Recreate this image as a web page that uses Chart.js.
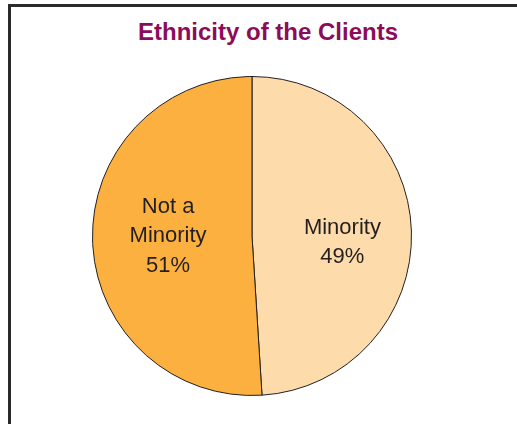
<!DOCTYPE html>
<html>
<head>
<meta charset="utf-8">
<script src="https://cdn.jsdelivr.net/npm/chart.js@4"></script>
<style>
  html, body { margin: 0; padding: 0; background: #ffffff; }
  body { width: 517px; height: 424px; position: relative; overflow: hidden; }
  #frame { position: absolute; left: 8px; top: 4px; width: 700px; height: 700px;
           border-left: 3px solid #2b2b2b; border-top: 3px solid #2b2b2b; box-sizing: border-box; }
  #title { position: absolute; left: 0; top: 20px; width: 536px; text-align: center;
           font: bold 24px "Liberation Sans", Arial, sans-serif; line-height: 24px; color: #8C0C5A; }
  #wrap { position: absolute; left: 0; top: 0; width: 517px; height: 424px; }
</style>
</head>
<body>
<div id="frame"></div>
<div id="title">Ethnicity of the Clients</div>
<div id="wrap"><canvas id="c" width="517" height="424"></canvas></div>
<script>
const categories = ["Minority", "Not a Minority"];
const values = [49, 51];
const labelLines = [["Minority", "49%"], ["Not a", "Minority", "51%"]];
const colors = ["#FEDBAB", "#FBB040"];

const sliceLabels = {
  id: 'sliceLabels',
  afterDatasetsDraw(chart, args, opts) {
    const ctx = chart.ctx;
    const meta = chart.getDatasetMeta(0);
    ctx.save();
    ctx.font = '22px "Liberation Sans", Arial, sans-serif';
    ctx.fillStyle = '#231F20';
    ctx.textAlign = 'center';
    ctx.textBaseline = 'middle';
    meta.data.forEach((arc, i) => {
      const p = arc.getProps(['x', 'y', 'startAngle', 'endAngle', 'outerRadius'], true);
      const mid = (p.startAngle + p.endAngle) / 2;
      const r = p.outerRadius * opts.frac;
      const off = opts.offsets[i] || [0, 0];
      const cx = p.x + Math.cos(mid) * r + off[0];
      const cy = p.y + Math.sin(mid) * r + off[1];
      const lines = labelLines[i];
      lines.forEach((t, k) => {
        ctx.fillText(t, cx, cy + (k - (lines.length - 1) / 2) * opts.lineHeight);
      });
    });
    ctx.restore();
  }
};

new Chart(document.getElementById('c'), {
  type: 'pie',
  data: {
    labels: categories,
    datasets: [{
      data: values,
      backgroundColor: colors,
      borderColor: '#231F20',
      borderWidth: 1
    }]
  },
  options: {
    responsive: false,
    animation: false,
    layout: { padding: { left: 92, right: 105, top: 76, bottom: 28 } },
    plugins: {
      legend: { display: false },
      tooltip: { enabled: false },
      title: { display: false },
      sliceLabels: { frac: 0.545, lineHeight: 29.5, offsets: [[3.5, 9], [3, -2.5]] }
    }
  },
  plugins: [sliceLabels]
});
</script>
</body>
</html>
